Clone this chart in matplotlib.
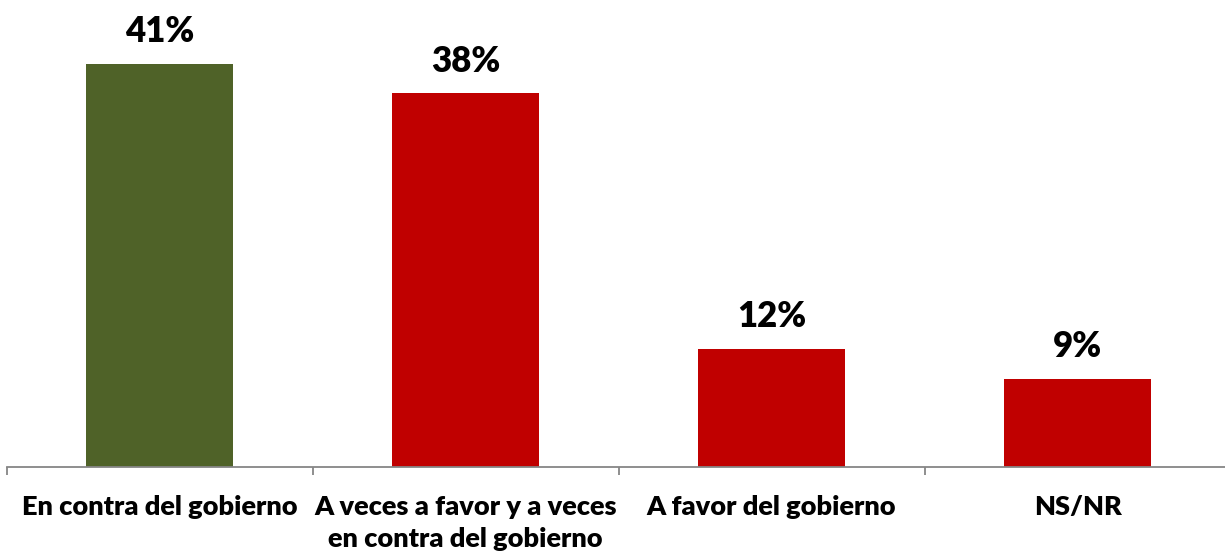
import matplotlib
matplotlib.use('Agg')
import matplotlib.pyplot as plt

# Data
categories = ['En contra del gobierno', 'A veces a favor y a veces\nen contra del gobierno',
              'A favor del gobierno', 'NS/NR']
values = [41, 38, 12, 9]
bar_colors = ['#4F6228', '#C00000', '#C00000', '#C00000']

plt.rcParams['font.family'] = ['Lato', 'DejaVu Sans']

fig = plt.figure(figsize=(12.25, 5.54), dpi=100)
ax = fig.add_axes([6.5 / 1225, 87 / 554, 1224 / 1225, 467 / 554])

x = range(len(categories))
bars = ax.bar(x, values, width=0.48, color=bar_colors)

for bar, v in zip(bars, values):
    ax.annotate(f'{v}%', (bar.get_x() + bar.get_width() / 2, v),
                xytext=(0, 15.5), textcoords='offset points',
                ha='center', va='baseline', fontsize=25, fontweight='heavy')

ax.set_xlim(-0.5, 3.5)
ax.set_ylim(0, 47.5)
ax.set_xticks([i - 0.5 for i in range(len(categories) + 1)])
ax.set_xticklabels([])
ax.set_xticks(list(x), minor=True)
ax.set_xticklabels(categories, minor=True, fontsize=19.5, fontweight='heavy',
                   linespacing=1.42)
ax.tick_params(axis='x', which='major', length=6, color='#868686', width=1.3)
ax.tick_params(axis='x', which='minor', length=0, pad=20)
ax.set_yticks([])
for side in ['left', 'right', 'top']:
    ax.spines[side].set_visible(False)
ax.spines['bottom'].set_color('#868686')
ax.spines['bottom'].set_linewidth(1.3)

fig.savefig('out.png', dpi=100)
